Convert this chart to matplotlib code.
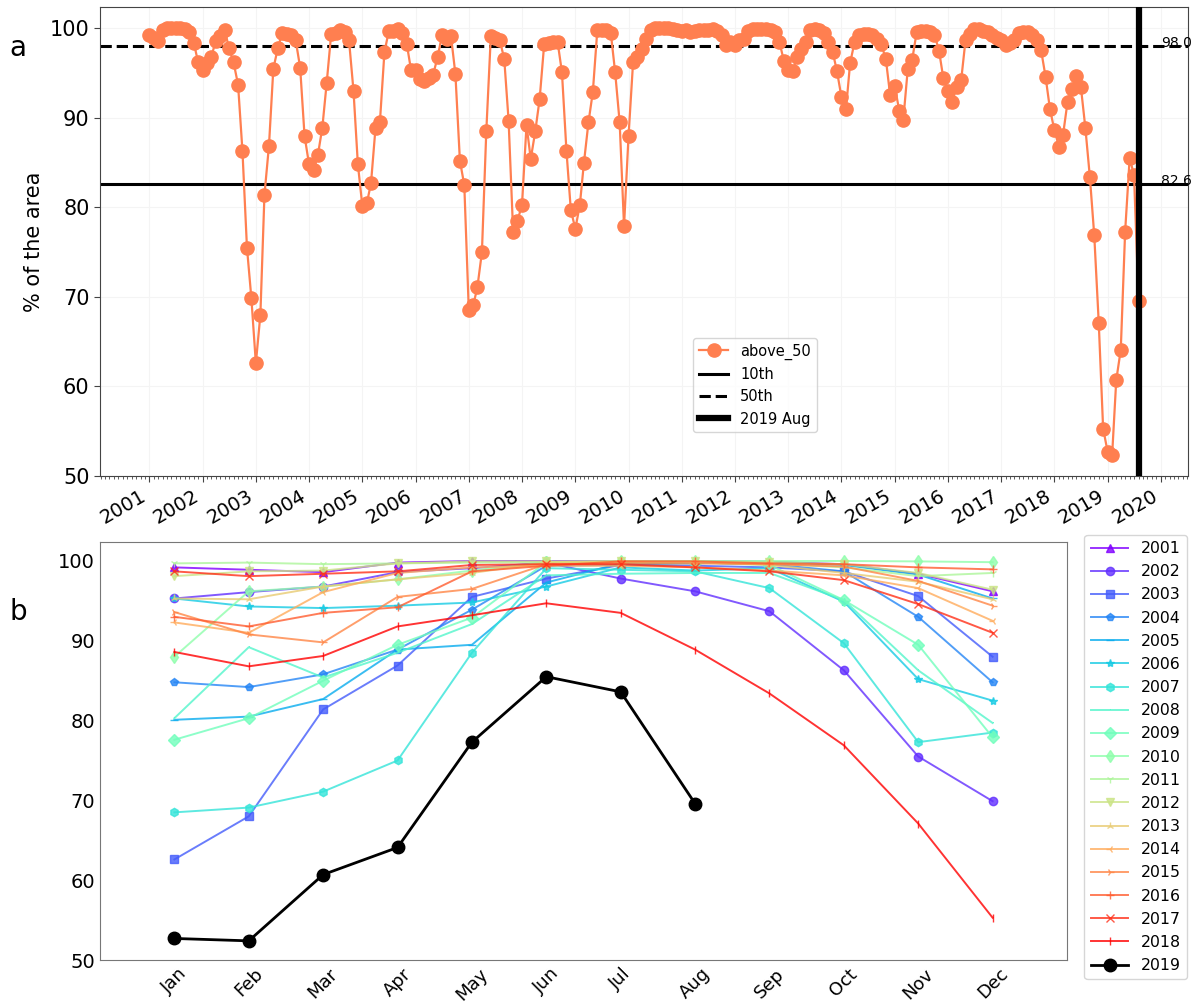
import numpy as np
import pandas as pd
import matplotlib
matplotlib.use("Agg")
import matplotlib.pyplot as plt
import matplotlib.dates as mdates

months = ['Jan', 'Feb', 'Mar', 'Apr', 'May', 'Jun', 'Jul', 'Aug', 'Sep', 'Oct', 'Nov', 'Dec']
years = list(range(2001, 2020))

y2001 = [99.2, 98.9, 98.6, 99.8, 100.0, 100.0, 100.0, 100.0, 99.9, 99.6, 98.4, 96.2]
y2002 = [95.3, 96.1, 96.8, 98.6, 99.1, 99.8, 97.8, 96.2, 93.7, 86.3, 75.5, 69.9]
y2003 = [62.6, 68.0, 81.4, 86.9, 95.5, 97.8, 99.5, 99.4, 99.2, 98.7, 95.6, 88.0]
y2004 = [84.8, 84.2, 85.8, 88.9, 93.9, 99.4, 99.5, 99.8, 99.6, 98.7, 93.0, 84.8]
y2005 = [80.1, 80.5, 82.7, 88.9, 89.5, 97.3, 99.7, 99.7, 99.9, 99.5, 98.3, 95.3]
y2006 = [95.3, 94.3, 94.1, 94.4, 94.8, 96.8, 99.2, 98.8, 99.1, 94.9, 85.2, 82.5]
y2007 = [68.5, 69.1, 71.1, 75.0, 88.5, 99.1, 98.9, 98.7, 96.6, 89.7, 77.3, 78.5]
y2008 = [80.3, 89.2, 85.4, 88.5, 92.1, 98.2, 98.4, 98.5, 98.5, 95.1, 86.3, 79.7]
y2009 = [77.6, 80.3, 85.0, 89.5, 92.9, 99.85, 99.85, 99.8, 99.5, 95.1, 89.5, 77.9]
y2010 = [88.0, 96.2, 96.8, 97.7, 98.8, 99.85, 100.0, 100.0, 100.0, 100.0, 99.95, 99.85]
y2011 = [99.7, 99.8, 99.6, 99.7, 99.8, 99.85, 99.85, 99.95, 99.7, 99.2, 98.1, 98.5]
y2012 = [98.1, 98.7, 98.8, 99.7, 99.95, 99.95, 99.95, 99.95, 99.85, 99.6, 98.5, 96.4]
y2013 = [95.3, 95.2, 96.8, 97.7, 98.5, 99.8, 99.95, 99.85, 99.5, 98.5, 97.4, 95.2]
y2014 = [92.3, 91.0, 96.1, 98.5, 99.2, 99.4, 99.4, 99.2, 98.8, 98.2, 96.6, 92.5]
y2015 = [93.6, 90.8, 89.8, 95.5, 96.5, 99.6, 99.7, 99.7, 99.6, 99.3, 97.5, 94.4]
y2016 = [93.0, 91.8, 93.5, 94.2, 98.7, 99.4, 99.95, 99.95, 99.7, 99.6, 99.2, 98.95]
y2017 = [98.7, 98.1, 98.4, 98.7, 99.5, 99.6, 99.6, 99.2, 98.7, 97.6, 94.6, 91.0]
y2018 = [88.6, 86.8, 88.1, 91.8, 93.2, 94.7, 93.5, 88.9, 83.4, 76.9, 67.1, 55.3]
y2019 = [52.7, 52.4, 60.7, 64.1, 77.3, 85.5, 83.6, 69.6]

series = [y2001, y2002, y2003, y2004, y2005, y2006, y2007, y2008, y2009, y2010,
          y2011, y2012, y2013, y2014, y2015, y2016, y2017, y2018, y2019]

p10 = 82.6
p50 = 98.0
series_label = 'above_50'
event_label = '2019 Aug'

markers = ['^', 'o', 's', 'p', '_', '*', 'h', ',', 'D', 'd',
           '1', 'v', '2', '3', '4', '+', 'x', '|']

W, H = 1193, 1005
fig = plt.figure(figsize=(W / 100, H / 100), dpi=100)

# ---------------- panel a ----------------
ax1 = fig.add_axes([100 / W, 1 - 476 / H, 1088 / W, 469 / H])
values = np.concatenate([np.asarray(s, dtype=float) for s in series])
dates = pd.date_range('2001-01-01', periods=len(values), freq='MS')

ax1.plot(dates, values, '-o', color='#ff7f50', lw=1.6, ms=9.5, label=series_label, zorder=3)
ax1.axhline(p10, color='k', lw=2.2, label='10th', zorder=2)
ax1.axhline(p50, color='k', lw=2.2, ls='--', label='50th', zorder=2)
ax1.axvline(dates[-1], color='k', lw=4.5, label=event_label, zorder=4)
ax1.set_ylim(50, 102.38)

xt = mdates.date2num(pd.Timestamp('2020-01-01'))
ax1.text(xt, p50 + 0.35, f'{p50:.1f}', fontsize=10, va='center', ha='left')
ax1.text(xt, p10 + 0.35, f'{p10:.1f}', fontsize=10, va='center', ha='left')

ax1.xaxis.set_major_locator(mdates.YearLocator())
ax1.xaxis.set_major_formatter(mdates.DateFormatter('%Y'))
ax1.xaxis.set_minor_locator(mdates.MonthLocator())
for lab in ax1.get_xticklabels():
    lab.set_rotation(30)
    lab.set_ha('right')
ax1.tick_params(axis='x', labelsize=14, length=4, color='#444')
ax1.tick_params(axis='x', which='minor', length=2, color='#444')
ax1.tick_params(axis='y', labelsize=15, length=4, color='#444')
ax1.set_yticks([50, 60, 70, 80, 90, 100])
ax1.grid(True, color='#f4f4f4', lw=0.8)
ax1.set_axisbelow(True)
for sp in ax1.spines.values():
    sp.set_color('#444')
ax1.set_ylabel('% of the area', fontsize=15)
ax1.legend(loc='center', bbox_to_anchor=(0.602, 0.194), fontsize=10.5)

# ---------------- panel b ----------------
ax2 = fig.add_axes([100 / W, 1 - 960 / H, 967 / W, 418 / H])
colors = plt.cm.rainbow(np.linspace(0, 1, len(years) - 1))
for i, (yr, vals) in enumerate(zip(years[:-1], series[:-1])):
    ax2.plot(np.arange(len(vals)), vals, marker=markers[i], color=colors[i],
             lw=1.4, ms=6, alpha=0.8, label=str(yr))
ax2.plot(np.arange(len(y2019)), y2019, '-o', color='k', lw=2, ms=9, label=str(years[-1]))
ax2.set_xticks(np.arange(12))
ax2.set_xticklabels(months, rotation=45, fontsize=13)
ax2.set_xlim(-1, 12)
ax2.set_ylim(50, 102.38)
ax2.set_yticks([50, 60, 70, 80, 90, 100])
ax2.tick_params(axis='y', labelsize=14, length=0)
ax2.tick_params(axis='x', length=0)
for sp in ax2.spines.values():
    sp.set_color('#777')
ax2.legend(loc='upper left', bbox_to_anchor=(1.018, 1.017), borderaxespad=0,
           fontsize=11.3, handlelength=2.4, labelspacing=0.52)

fig.text(18 / W, 1 - 48 / H, 'a', fontsize=20, va='center', ha='center')
fig.text(18 / W, 1 - 612 / H, 'b', fontsize=20, va='center', ha='center')

fig.savefig('out.png', dpi=100)
